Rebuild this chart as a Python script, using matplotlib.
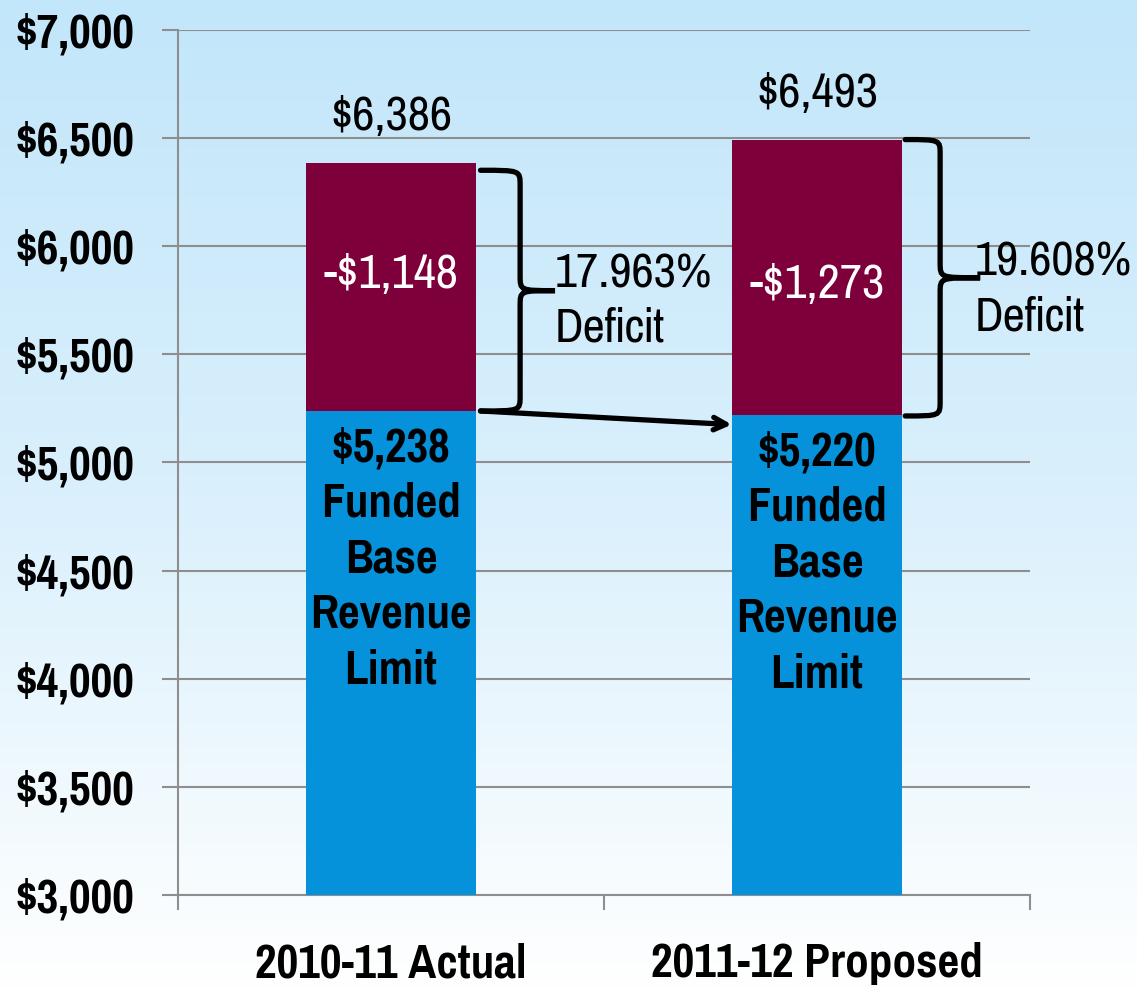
import numpy as np
import matplotlib.pyplot as plt
from matplotlib.path import Path
from matplotlib.patches import PathPatch
from matplotlib.colors import LinearSegmentedColormap

# data
categories = ['2010-11 Actual', '2011-12 Proposed']
funded = [5238, 5220]
deficit = [1148, 1273]
totals = [6386, 6493]
deficit_pct = ['17.963%', '19.608%']

blue = '#0592DB'
maroon = '#7D003B'
grid_gray = '#8E8E8E'

plt.rcParams['font.family'] = ['Pragati Narrow', 'DejaVu Sans']
FS_B = 37   # bold texts
FS_R = 38   # regular texts

fig = plt.figure(figsize=(11.37, 9.91), dpi=100)

# gradient background
bg = fig.add_axes([0, 0, 1, 1], zorder=-10)
grad = np.linspace(0, 1, 256).reshape(-1, 1)
cmap = LinearSegmentedColormap.from_list('bg', ['#C2E6FA', '#DAF0FC', '#FFFFFF'])
bg.imshow(grad, aspect='auto', cmap=cmap, extent=[0, 1, 0, 1], origin='upper')
bg.axis('off')

ax = fig.add_axes([0.1566, 0.0969, 0.7493, 0.8729])
ax.patch.set_alpha(0)

x = np.arange(len(categories))
w = 0.4
ax.bar(x, [f - 3000 for f in funded], bottom=3000, width=w, color=blue, zorder=3)
ax.bar(x, deficit, bottom=funded, width=w, color=maroon, zorder=3)

ax.set_xlim(-0.5, 1.5)
ax.set_ylim(3000, 7000)
yt = np.arange(3000, 7001, 500)
ax.set_yticks(yt)
ax.set_yticklabels(['${:,}'.format(v) for v in yt], fontsize=FS_B, fontweight='bold')
ax.yaxis.grid(True, color=grid_gray, lw=1.5, zorder=0)
ax.set_axisbelow(True)
ax.tick_params(axis='y', length=11.5, width=1.5, color=grid_gray, pad=20)

ax.set_xticks(x)
ax.set_xticklabels(categories, fontsize=FS_B, fontweight='bold')
ax.set_xticks([-0.5, 0.5, 1.5], minor=True)
ax.tick_params(axis='x', which='major', length=0, pad=34)
ax.tick_params(axis='x', which='minor', length=11, width=1.5, color=grid_gray)

for s in ['top', 'right']:
    ax.spines[s].set_visible(False)
for s in ['left', 'bottom']:
    ax.spines[s].set_color(grid_gray)
    ax.spines[s].set_linewidth(1.5)

# labels on bars
neg_shift = [55, -35]
for i in range(len(categories)):
    ax.text(x[i], totals[i] + 215, '${:,}'.format(totals[i]),
            ha='center', va='center', fontsize=FS_R)
    ax.text(x[i], funded[i] + deficit[i] / 2 + neg_shift[i], '-${:,}'.format(deficit[i]),
            ha='center', va='center', fontsize=FS_R, color='white')
    ax.text(x[i], funded[i] - 70,
            '${:,}\nFunded\nBase\nRevenue\nLimit'.format(funded[i]),
            ha='center', va='top', fontsize=FS_B, fontweight='bold',
            linespacing=1.36)


def brace(ax, xs, xm, xa, y1, y0, ry=70):
    ym = (y1 + y0) / 2
    verts = [(xs, y1), (xm, y1), (xm, y1), (xm, y1 - ry),
             (xm, ym + ry),
             (xm, ym), (xm, ym), (xa, ym),
             (xm, ym), (xm, ym), (xm, ym - ry),
             (xm, y0 + ry),
             (xm, y0), (xm, y0), (xs, y0)]
    codes = [Path.MOVETO, Path.CURVE4, Path.CURVE4, Path.CURVE4,
             Path.LINETO,
             Path.CURVE4, Path.CURVE4, Path.CURVE4,
             Path.CURVE4, Path.CURVE4, Path.CURVE4,
             Path.LINETO,
             Path.CURVE4, Path.CURVE4, Path.CURVE4]
    ax.add_patch(PathPatch(Path(verts, codes), fill=False, lw=3.8,
                           color='black', capstyle='round', zorder=5))
    return ym


# brackets and deficit text
ym = brace(ax, x[0] + 0.21, x[0] + 0.303, x[0] + 0.385, totals[0] - 35, funded[0])
ax.text(x[0] + 0.385, ym - 48, deficit_pct[0] + '\nDeficit', ha='left', va='center',
        fontsize=FS_R, linespacing=1.34)
ym = brace(ax, x[1] + 0.207, x[1] + 0.289, x[1] + 0.383, totals[1], funded[1] - 5)
ax.text(x[1] + 0.371, ym - 55, deficit_pct[1] + '\nDeficit', ha='left', va='center',
        fontsize=FS_R, linespacing=1.34)

# arrow from funded level of year 1 to year 2
ax.annotate('', xy=(x[1] - w / 2, funded[1] - 45), xytext=(x[0] + 0.21, funded[0]),
            arrowprops=dict(arrowstyle='->,head_length=0.9,head_width=0.45',
                            lw=3.8, color='black', shrinkA=0, shrinkB=0),
            zorder=5)

fig.savefig('out.png', dpi=100)
